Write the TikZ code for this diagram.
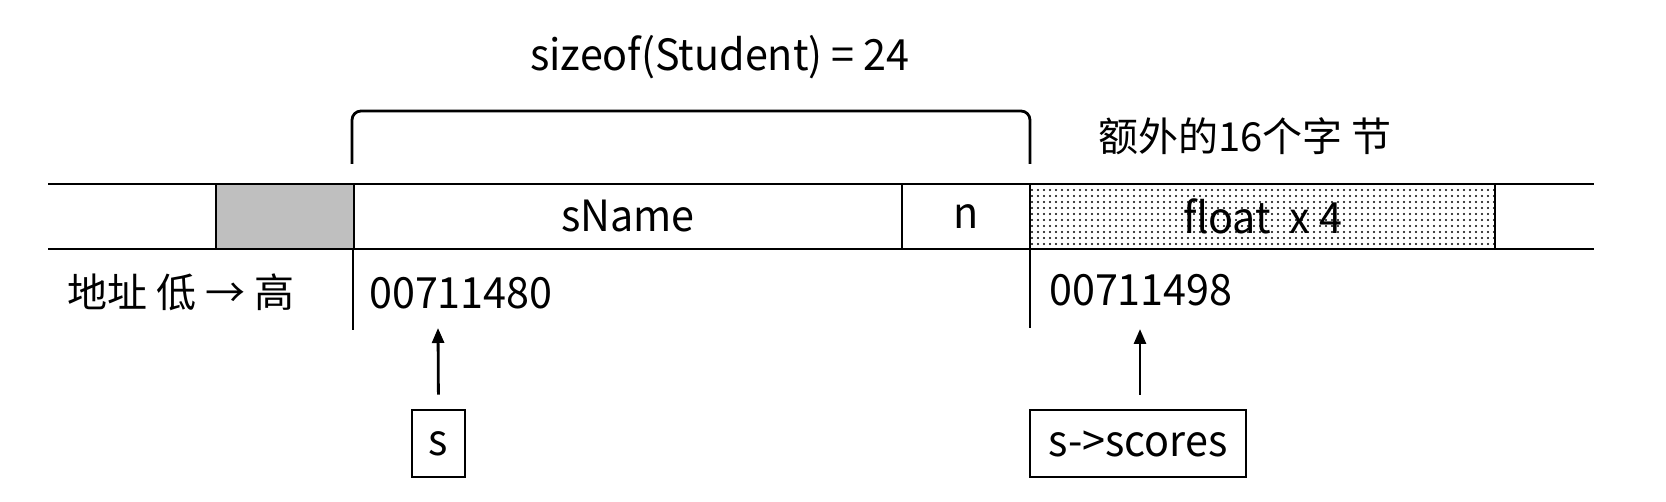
\documentclass[tikz,border=0pt]{standalone}
\usepackage{fontspec}
\setmainfont{Noto Sans CJK SC}
\newfontfamily\latf[FakeStretch=0.96]{Noto Sans CJK SC}
\usetikzlibrary{patterns.meta,arrows.meta}
\begin{document}
\begin{tikzpicture}[x=1pt,y=-1pt,line width=2.4pt,
  lat/.style={font=\latf\fontsize{43}{50}\selectfont},
  cell/.style={draw,inner sep=0pt,minimum height=65pt,lat},
  txt/.style={inner sep=0pt,lat},
  cjk/.style={inner sep=0pt,font=\fontsize{40}{48}\selectfont},
  ptr/.style={draw,line width=2.6pt,inner sep=0pt,minimum height=67pt,lat},
  arr/.style={-{Triangle[length=15pt,width=12pt]},line width=2.8pt}]
\useasboundingbox (0,0) rectangle (1666,502);
% memory row lines
\draw (48,184) -- (1594,184);
\draw (48,249) -- (1594,249);
\node[cell,fill=black!25,minimum width=138pt] (pad) at (285,216.5) {};
\node[cell,minimum width=548pt] (sname) at (628,216.5) {sName};
\node[cell,minimum width=128pt] (nn) at (966,216.5) {n};
\node[cell,minimum width=465pt,pattern={Dots[radius=1.1pt,distance=6pt]}] (flt) at (1262.5,216.5) {};
\node[txt] (fltxt) at (1262.5,216.5) {float\ \ x 4};
% brace
\draw[line width=2.8pt,rounded corners=9pt] (352,164) -- (352,111) -- (1030,111) -- (1030,164);
\node[txt] (size) at (720,57) {sizeof(Student) = 24};
\node[cjk] (extra) at (1245,136) {额外的16个字 节};
% address markers
\draw (353,249) -- (353,330);
\draw (1030,249) -- (1030,328);
\node[cjk,anchor=west] (lab) at (66,292) {地址 低 → 高};
\node[txt,anchor=west] (a1) at (368,293) {00711480};
\node[txt,anchor=west] (a2) at (1048,290) {00711498};
% pointers
\node[ptr,minimum width=53pt] (sbox) at (438.5,443.5) {s};
\node[ptr,minimum width=216pt] (scbox) at (1138,443.5) {s->scores};
\coordinate (t1) at (438,328);
\coordinate (t2) at (1140,329);
\draw[arr,shorten <=14pt] (sbox.north) -- (t1);
\draw[arr,shorten <=14pt] (scbox.north -| t2) -- (t2);
\end{tikzpicture}
\end{document}
